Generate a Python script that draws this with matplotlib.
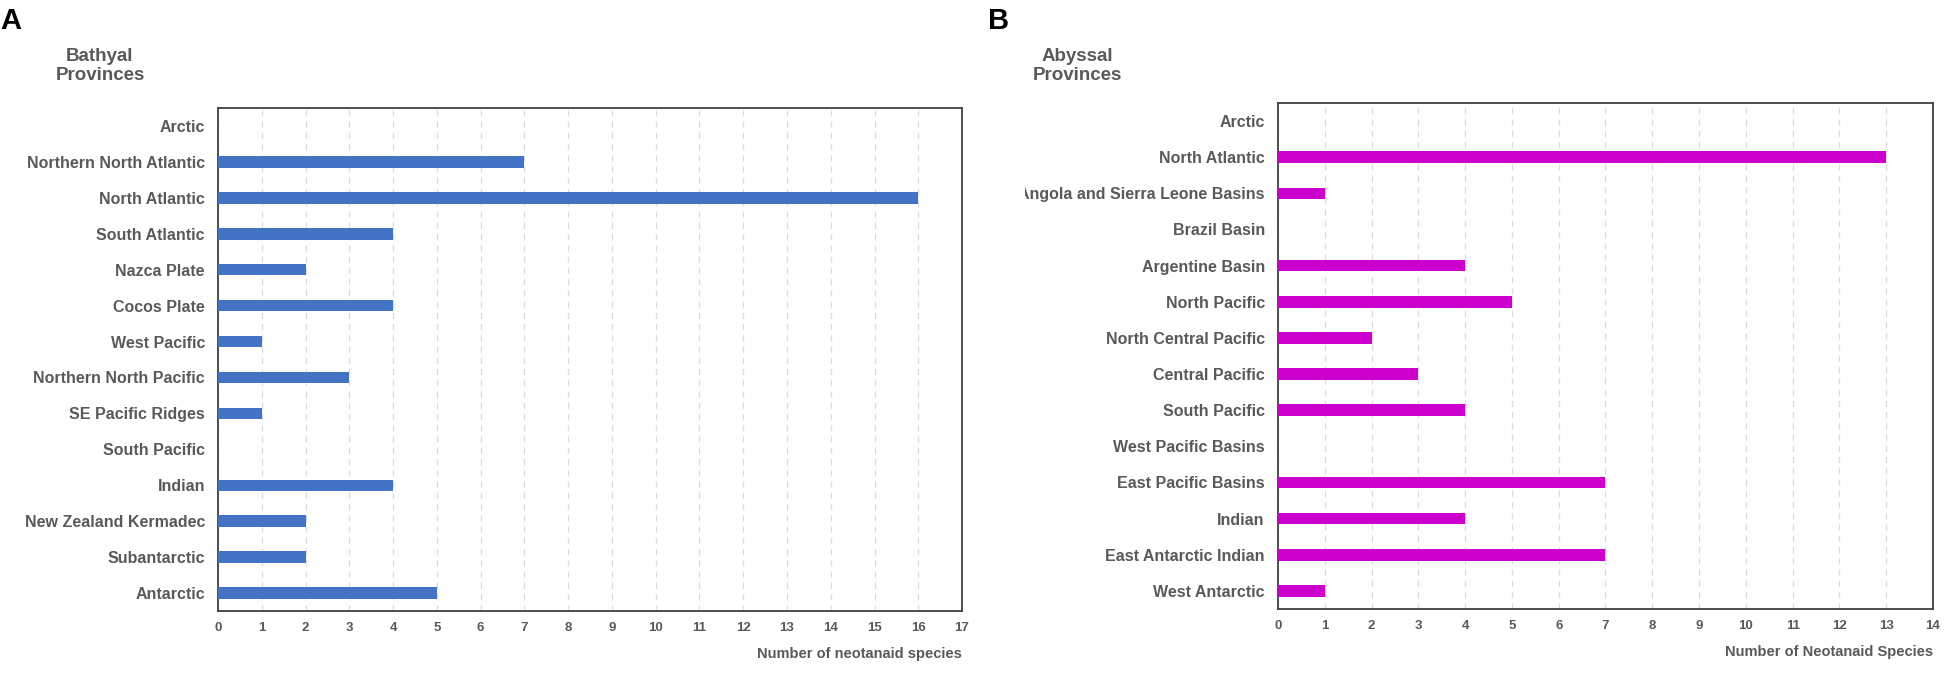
import matplotlib
matplotlib.use('Agg')
import matplotlib.pyplot as plt
from matplotlib.transforms import Bbox

# panel A - bathyal provinces (top to bottom)
bathyal_names = ['Arctic', 'Northern North Atlantic', 'North Atlantic', 'South Atlantic',
                 'Nazca Plate', 'Cocos Plate', 'West Pacific', 'Northern North Pacific',
                 'SE Pacific Ridges', 'South Pacific', 'Indian', 'New Zealand Kermadec',
                 'Subantarctic', 'Antarctic']
bathyal_counts = [0, 7, 16, 4, 2, 4, 1, 3, 1, 0, 4, 2, 2, 5]

# panel B - abyssal provinces (top to bottom)
abyssal_names = ['Arctic', 'North Atlantic', 'Angola and Sierra Leone Basins', 'Brazil Basin',
                 'Argentine Basin', 'North Pacific', 'North Central Pacific', 'Central Pacific',
                 'South Pacific', 'West Pacific Basins', 'East Pacific Basins', 'Indian',
                 'East Antarctic Indian', 'West Antarctic']
abyssal_counts = [0, 13, 1, 0, 4, 5, 2, 3, 4, 0, 7, 4, 7, 1]

grey = '#595959'
plt.rcParams['font.family'] = ['Liberation Sans', 'DejaVu Sans']

fig = plt.figure(figsize=(19.49, 6.78), dpi=100)

def panel(rect, names, counts, xmax, color, title, title_x, xlabel):
    ax = fig.add_axes(rect)
    y = list(range(len(names)))
    ax.barh(y, counts, height=0.32, color=color, edgecolor='none', zorder=3)
    ax.set_ylim(len(names) - 0.5, -0.5)
    ax.set_xlim(0, xmax)
    ax.set_yticks(y)
    ax.set_yticklabels(names, fontsize=11.5, fontweight='bold', color=grey)
    ax.set_xticks(range(xmax + 1))
    ax.set_xticklabels([str(i) for i in range(xmax + 1)], fontsize=9.5,
                       fontweight='bold', color=grey,
                       family=['Liberation Sans Narrow', 'Liberation Sans'])
    ax.tick_params(axis='both', length=0)
    ax.tick_params(axis='y', pad=9.5)
    ax.tick_params(axis='x', pad=8)
    ax.grid(axis='x', color='#dcdcdc', linestyle=(0, (5, 4)), linewidth=0.9, zorder=0)
    ax.set_axisbelow(True)
    for sp in ax.spines.values():
        sp.set_color('#404040')
        sp.set_linewidth(1.3)
    fig.text(title_x, 0.903, title, ha='center', va='center', fontsize=13.5,
             fontweight='bold', color=grey, linespacing=1.15)
    ax.text(1.0, -0.072, xlabel, transform=ax.transAxes, ha='right', va='top',
            fontsize=10.5, fontweight='bold', color=grey)
    return ax

axA = panel([0.1119, 0.0988, 0.3817, 0.7419], bathyal_names, bathyal_counts, 17,
            '#4472c4', 'Bathyal\nProvinces', 0.0513, 'Number of neotanaid species')
axB = panel([0.6557, 0.1018, 0.3361, 0.7463], abyssal_names, abyssal_counts, 14,
            '#cc00cc', 'Abyssal\nProvinces', 0.5526, 'Number of Neotanaid Species')

fig.text(0.0, 0.99, 'A', ha='left', va='top', fontsize=21, fontweight='bold', color='black')
fig.text(0.507, 0.99, 'B', ha='left', va='top', fontsize=21, fontweight='bold', color='black')

# the long label in panel B is cut at its left edge in the original
clip = Bbox.from_extents(1025, 0, 1949, 678)
for lab in axB.get_yticklabels():
    lab.set_clip_box(clip)
    lab.set_clip_on(True)

fig.savefig('out.png', dpi=100, facecolor='white')
